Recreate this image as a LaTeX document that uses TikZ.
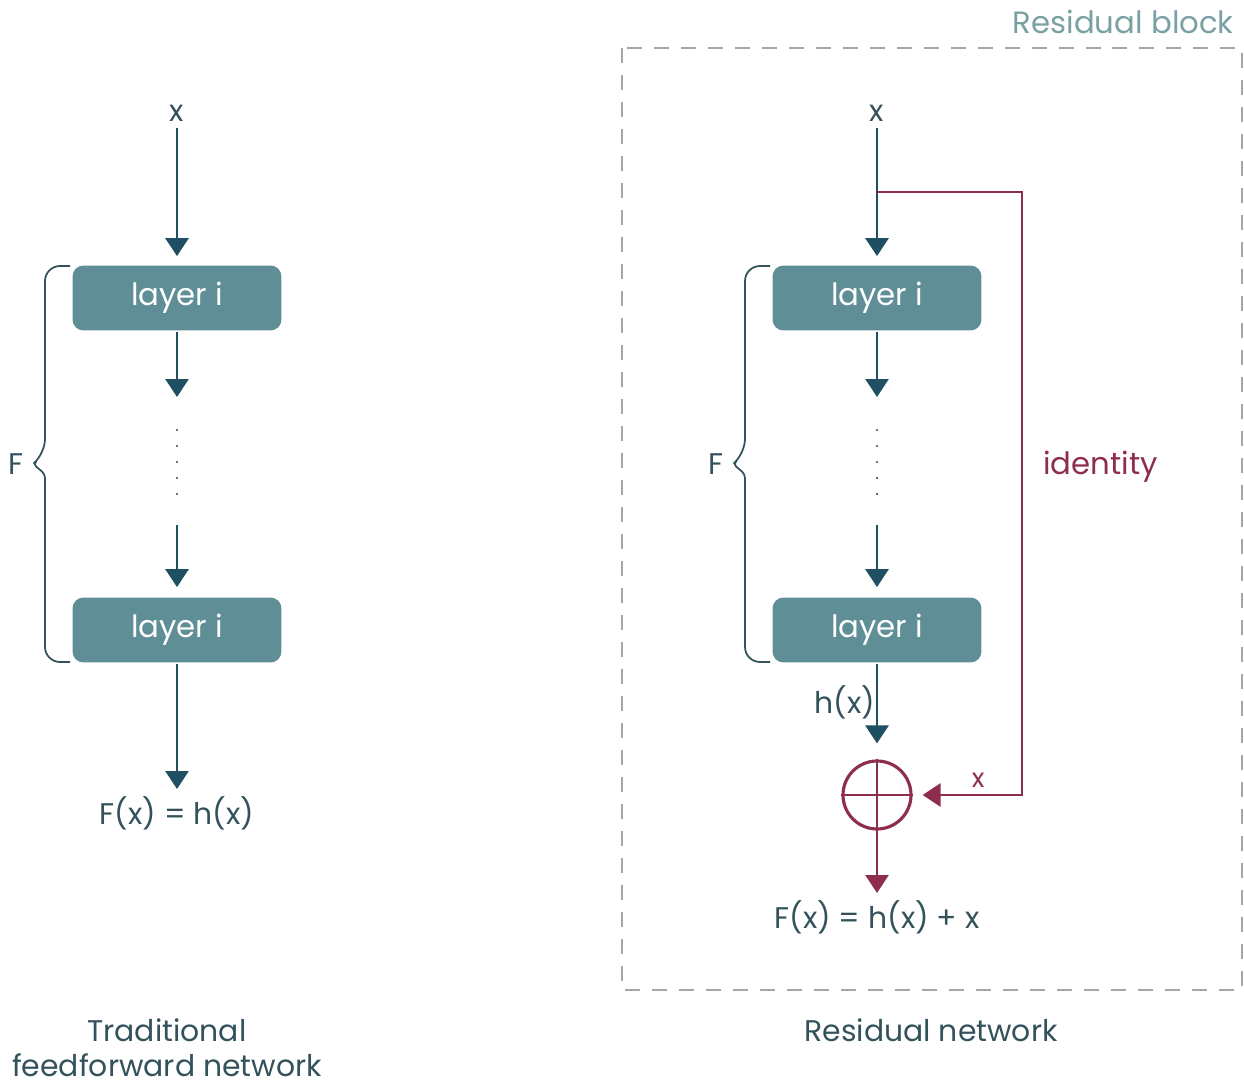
\documentclass[tikz,border=0pt]{standalone}
\usepackage{fontspec}
\setmainfont{Poppins}
\usetikzlibrary{arrows.meta}
\definecolor{tealdark}{HTML}{1E4F63}
\definecolor{tealbox}{HTML}{5F8E97}
\definecolor{txtdark}{HTML}{33525C}
\definecolor{wine}{HTML}{8E2E4E}
\definecolor{blockgray}{HTML}{A3A7A8}
\definecolor{blocktxt}{HTML}{7AA0A3}

\begin{document}
\begin{tikzpicture}[x=0.02cm,y=-0.02cm,line width=1.6pt,
  >={Triangle[length=0.36cm,width=0.46cm]},
  layer/.style={fill=tealbox,rounded corners=0.22cm,minimum width=4.18cm,minimum height=1.3cm,text=white,font=\fontsize{17.5}{20}\selectfont},
  lbl/.style={text=txtdark,font=\fontsize{17}{20}\selectfont},
  flow/.style={->,tealdark},
  idf/.style={->,wine},
  dots/.style={tealdark,line width=1.4pt,line cap=round,dash pattern=on 0pt off 0.32cm},
  fbrace/.style={txtdark,line width=1pt,rounded corners=0.3cm}]
  \useasboundingbox (0,0) rectangle (1244,1087);
  % traditional network
  \node[lbl] (xa) at (177,113) {x};
  \node[layer] (la1) at (177,298) {layer i};
  \node[layer] (la2) at (177,630) {layer i};
  \coordinate (da1) at (177,397);
  \coordinate (da2) at (177,525);
  \node[lbl] (fa) at (177,813) {F(x) = h(x)};
  \draw[flow,shorten >=0.16cm] (xa) -- (la1);
  \draw[flow] (la1) -- (da1);
  \draw[dots] (177,430) -- (177,496);
  \draw[flow,shorten >=0.18cm] (da2) -- (la2);
  \draw[flow] (la2) -- (fa);
  \draw[fbrace] (70,266) -- (45,266) -- (45,454) [rounded corners=0.08cm] -- (33,464) -- (45,474) [rounded corners=0.3cm] -- (45,662) -- (70,662);
  \node[lbl] (Fa) at (16,464) {F};
  \node[lbl,align=center] (capa) at (167,1048) {Traditional\\[0pt]feedforward network};
  % residual network
  \draw[blockgray,line width=1.1pt,dash pattern=on 0.3cm off 0.24cm] (622,48) rectangle (1242,990);
  \node[text=blocktxt,font=\fontsize{17.5}{20}\selectfont,anchor=east] (rb) at (1241,22) {Residual block};
  \node[lbl] (xb) at (877,113) {x};
  \node[layer] (lb1) at (877,298) {layer i};
  \node[layer] (lb2) at (877,630) {layer i};
  \coordinate (db1) at (877,397);
  \coordinate (db2) at (877,525);
  \draw[flow,shorten >=0.16cm] (xb) -- (lb1);
  \draw[flow] (lb1) -- (db1);
  \draw[dots] (877,430) -- (877,496);
  \draw[flow,shorten >=0.18cm] (db2) -- (lb2);
  \draw[fbrace] (770,266) -- (745,266) -- (745,454) [rounded corners=0.08cm] -- (733,464) -- (745,474) [rounded corners=0.3cm] -- (745,662) -- (770,662);
  \node[lbl] (Fb) at (716,464) {F};
  \node[circle,draw=wine,line width=1.8pt,minimum size=1.36cm,inner sep=0pt] (sum) at (877,795) {};
  \draw[wine,line width=0.6pt] (sum.north) -- (sum.south) (sum.west) -- (sum.east);
  \draw[flow,shorten >=0.32cm] (lb2) -- node[lbl,left,pos=0.4,xshift=3pt] (hx) {h(x)} (sum);
  \node[lbl] (fb) at (877,917) {F(x) = h(x) + x};
  \draw[idf] (sum) -- (fb);
  \coordinate (sp) at (877,192);
  \draw[idf,shorten >=0.2cm] (sp) -- (1022,192) -- node[text=wine,font=\fontsize{17.5}{20}\selectfont,right,xshift=8pt,pos=0.455] (idl) {identity} (1022,795) -- node[text=wine,font=\fontsize{15}{18}\selectfont,above,pos=0.4] (xid) {x} (sum);
  \node[lbl] (capb) at (931,1030) {Residual network};
\end{tikzpicture}
\end{document}
